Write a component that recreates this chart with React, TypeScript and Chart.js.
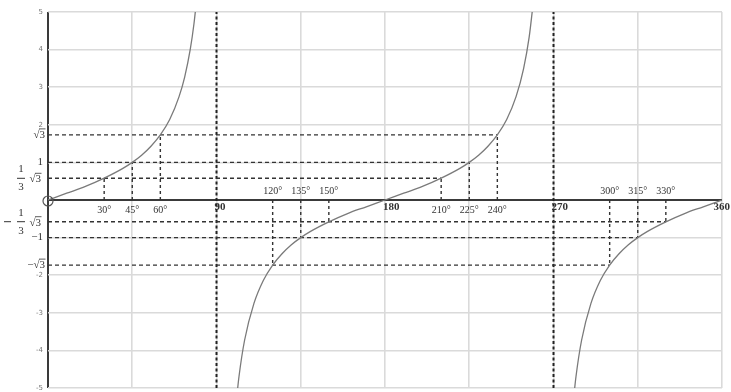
import React, { useEffect, useRef } from 'react';
import { Chart, registerables } from 'chart.js';

Chart.register(...registerables);

// tan curve, three branches (degrees -> value)
const branch1Deg = [0, 10, 20, 30, 40, 45, 50, 55, 60, 65, 70, 73, 76, 78, 79.5];
const branch1Tan = [0, 0.18, 0.36, 0.58, 0.84, 1, 1.19, 1.43, 1.73, 2.14, 2.75, 3.27, 4.01, 4.7, 5.39];
const branch2Deg = [100.5, 102, 105, 110, 115, 120, 125, 130, 135, 140, 150, 160, 170, 180, 190, 200, 210, 220, 225, 230, 235, 240, 245, 250, 254, 257, 259.5];
const branch2Tan = [-5.39, -4.7, -3.73, -2.75, -2.14, -1.73, -1.43, -1.19, -1, -0.84, -0.58, -0.36, -0.18, 0, 0.18, 0.36, 0.58, 0.84, 1, 1.19, 1.43, 1.73, 2.14, 2.75, 3.49, 4.33, 5.39];
const branch3Deg = [280.5, 282, 285, 290, 295, 300, 305, 310, 315, 320, 330, 340, 350, 360];
const branch3Tan = [-5.39, -4.7, -3.73, -2.75, -2.14, -1.73, -1.43, -1.19, -1, -0.84, -0.58, -0.36, -0.18, 0];

// special angles and their tangent values
const guideAngles = [30, 45, 60, 120, 135, 150, 210, 225, 240, 300, 315, 330];
const guideTan = [0.577, 1, 1.732, -1.732, -1, -0.577, 0.577, 1, 1.732, -1.732, -1, -0.577];
const degreeLabels = ['30°', '45°', '60°', '120°', '135°', '150°', '210°', '225°', '240°', '300°', '315°', '330°'];

// horizontal dashed levels
const levelValues = [1.732, 1, 0.577, -0.577, -1, -1.732];
const levelEndDeg = [240, 225, 210, 330, 315, 300];
const levelLabels = ['√3', '1', '1/3 √3', '-1/3 √3', '-1', '-√3'];

// asymptotes
const asymptoteDeg = [90, 270];

// axis ticks
const xTickValues = [90, 180, 270, 360];
const xTickLabels = ['90', '180', '270', '360'];
const yTickValues = [5, 4, 3, 2, -2, -3, -4, -5];
const yTickLabels = ['5', '4', '3', '2', '-2', '-3', '-4', '-5'];

const Y_MIN = -5;
const Y_MAX = 5;

function pts(xs: number[], ys: number[]) {
  return xs.map((x, i) => ({ x, y: ys[i] }));
}

const curveStyle = {
  borderColor: '#7a7a7a',
  borderWidth: 1.3,
  pointRadius: 0,
  cubicInterpolationMode: 'monotone' as const,
  clip: 0,
  fill: false,
};

const dashStyle = {
  borderColor: '#333',
  borderWidth: 1.4,
  borderDash: [4, 3],
  pointRadius: 0,
  tension: 0,
  fill: false,
};

function drawRadical(ctx: CanvasRenderingContext2D, text: string, xRight: number, y: number) {
  // text like "√3" or "-√3"
  ctx.textAlign = 'right';
  ctx.textBaseline = 'middle';
  ctx.fillText(text, xRight, y);
  const w3 = ctx.measureText('3').width;
  ctx.beginPath();
  ctx.moveTo(xRight - w3 - 0.5, y - 6);
  ctx.lineTo(xRight + 0.5, y - 6);
  ctx.lineWidth = 0.8;
  ctx.stroke();
}

const labelPlugin = {
  id: 'trigLabels',
  afterDatasetsDraw(chart: any) {
    const ctx: CanvasRenderingContext2D = chart.ctx;
    const xs = chart.scales.x;
    const ys = chart.scales.y;
    const x0 = xs.getPixelForValue(0);
    const y0 = ys.getPixelForValue(0);
    ctx.save();
    ctx.fillStyle = '#333';
    ctx.strokeStyle = '#333';

    // degree labels
    ctx.font = '10px "Liberation Serif", serif';
    ctx.textAlign = 'center';
    ctx.textBaseline = 'middle';
    guideAngles.forEach((a, i) => {
      const px = xs.getPixelForValue(a);
      const py = guideTan[i] > 0 ? y0 + 10 : y0 - 9;
      ctx.fillText(degreeLabels[i], px, py);
    });

    // x tick labels
    ctx.font = 'bold 11px "Liberation Serif", serif';
    ctx.textAlign = 'left';
    xTickValues.forEach((v, i) => {
      const w = ctx.measureText(xTickLabels[i]).width;
      let px = xs.getPixelForValue(v) - 2;
      px = Math.min(px, chart.width - w - 1);
      ctx.fillText(xTickLabels[i], px, y0 + 7);
    });

    // small y tick labels
    ctx.font = '7px "DejaVu Sans", sans-serif';
    ctx.fillStyle = '#777';
    ctx.textAlign = 'right';
    yTickValues.forEach((v, i) => {
      ctx.fillText(yTickLabels[i], x0 - 5, ys.getPixelForValue(v));
    });

    // special level labels
    ctx.fillStyle = '#333';
    ctx.font = '11px "Liberation Serif", serif';
    levelValues.forEach((v, i) => {
      const py = ys.getPixelForValue(v);
      const lab = levelLabels[i];
      if (lab.includes('/')) {
        const neg = lab.startsWith('-');
        const [frac, rad] = lab.replace('-', '').split(' ');
        const [num, den] = frac.split('/');
        ctx.textAlign = 'center';
        ctx.textBaseline = 'middle';
        ctx.fillText(num, 21, py - 9);
        ctx.fillText(den, 21, py + 9);
        ctx.beginPath();
        ctx.lineWidth = 1;
        ctx.moveTo(17, py);
        ctx.lineTo(25, py);
        ctx.stroke();
        if (neg) {
          ctx.beginPath();
          ctx.moveTo(4, py);
          ctx.lineTo(11, py);
          ctx.stroke();
        }
        drawRadical(ctx, rad, x0 - 7, py + 1);
      } else if (lab.includes('√')) {
        drawRadical(ctx, lab.replace('-', '−'), x0 - 3, py);
      } else {
        ctx.textAlign = 'right';
        ctx.textBaseline = 'middle';
        ctx.fillText(lab.replace('-', '−'), x0 - 5, py);
      }
    });

    // circled origin
    ctx.beginPath();
    ctx.lineWidth = 1.2;
    ctx.strokeStyle = '#555';
    ctx.arc(x0, y0 + 1, 5, 0, Math.PI * 2);
    ctx.stroke();
    ctx.restore();
  },
};

export default function App() {
  const ref = useRef<HTMLCanvasElement | null>(null);

  useEffect(() => {
    if (!ref.current) return;
    const datasets: any[] = [
      { ...curveStyle, data: pts(branch1Deg, branch1Tan) },
      { ...curveStyle, data: pts(branch2Deg, branch2Tan) },
      { ...curveStyle, data: pts(branch3Deg, branch3Tan) },
    ];
    levelValues.forEach((v, i) => {
      datasets.push({ ...dashStyle, data: [{ x: 0, y: v }, { x: levelEndDeg[i], y: v }] });
    });
    guideAngles.forEach((a, i) => {
      datasets.push({ ...dashStyle, borderDash: [3, 3], data: [{ x: a, y: 0 }, { x: a, y: guideTan[i] }] });
    });
    asymptoteDeg.forEach((a) => {
      datasets.push({ ...dashStyle, borderWidth: 2, borderDash: [3, 2.5], borderColor: '#222', data: [{ x: a, y: Y_MIN }, { x: a, y: Y_MAX }] });
    });

    const chart = new Chart(ref.current, {
      type: 'line',
      data: { datasets },
      options: {
        animation: false,
        responsive: false,
        devicePixelRatio: 1,
        layout: { padding: { left: 48, right: 9, top: 12, bottom: 4 } },
        plugins: { legend: { display: false }, tooltip: { enabled: false } },
        scales: {
          x: {
            type: 'linear',
            min: 0,
            max: 360,
            ticks: { display: false, stepSize: 45 },
            border: { display: false },
            grid: {
              drawTicks: false,
              color: (c: any) => (c.tick && c.tick.value === 0 ? '#3a3a3a' : '#dadada'),
              lineWidth: (c: any) => (c.tick && c.tick.value === 0 ? 2 : 1.6),
            },
          },
          y: {
            type: 'linear',
            min: Y_MIN,
            max: Y_MAX,
            ticks: { display: false, stepSize: 1 },
            border: { display: false },
            grid: {
              drawTicks: false,
              color: (c: any) => (c.tick && c.tick.value === 0 ? '#3a3a3a' : '#dadada'),
              lineWidth: (c: any) => (c.tick && c.tick.value === 0 ? 2 : 1.6),
            },
          },
        },
      },
      plugins: [labelPlugin],
    });
    return () => chart.destroy();
  }, []);

  return (
    <div style={{ position: 'fixed', left: 0, top: 0, width: 731, height: 392, background: '#fff' }}>
      <canvas ref={ref} width={731} height={392} />
    </div>
  );
}
